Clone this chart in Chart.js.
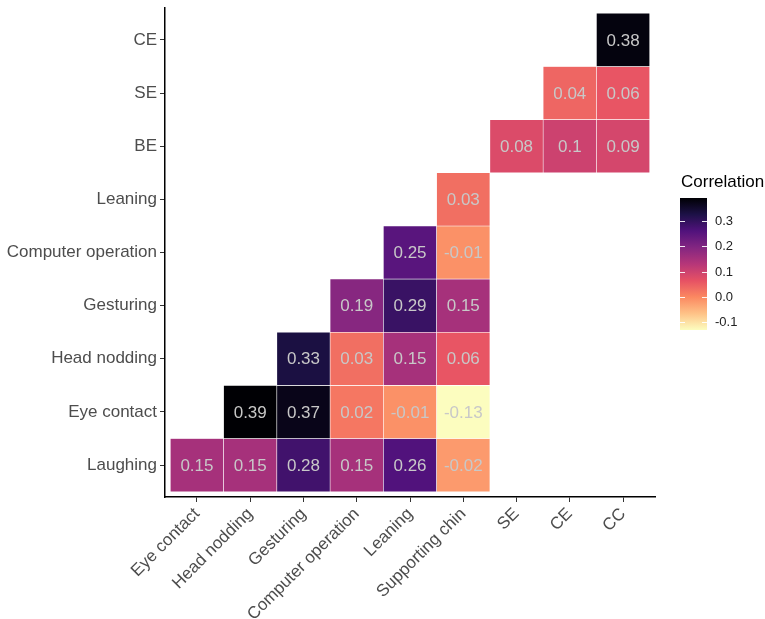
<!DOCTYPE html>
<html>
<head>
<meta charset="utf-8">
<script src="https://cdn.jsdelivr.net/npm/chart.js@4.4.1/dist/chart.umd.min.js"></script>
<style>
  body { margin: 0; background: #fff; }
  #wrap { width: 765px; height: 619px; position: relative; }
</style>
</head>
<body>
<div id="wrap"><canvas id="corrChart"></canvas></div>
<script>
// categories
const xCats = ['Eye contact', 'Head nodding', 'Gesturing', 'Computer operation', 'Leaning', 'Supporting chin', 'SE', 'CE', 'CC'];
const yCats = ['Laughing', 'Eye contact', 'Head nodding', 'Gesturing', 'Computer operation', 'Leaning', 'BE', 'SE', 'CE'];

// correlation values, one row per y category (null = empty cell)
const laughing     = [0.15, 0.15, 0.28, 0.15, 0.26, -0.02, null, null, null];
const eyeContact   = [null, 0.39, 0.37, 0.02, -0.01, -0.13, null, null, null];
const headNodding  = [null, null, 0.33, 0.03, 0.15, 0.06, null, null, null];
const gesturing    = [null, null, null, 0.19, 0.29, 0.15, null, null, null];
const computerOp   = [null, null, null, null, 0.25, -0.01, null, null, null];
const leaning      = [null, null, null, null, null, 0.03, null, null, null];
const beRow        = [null, null, null, null, null, null, 0.08, 0.1, 0.09];
const seRow        = [null, null, null, null, null, null, null, 0.04, 0.06];
const ceRow        = [null, null, null, null, null, null, null, null, 0.38];
const rows = [laughing, eyeContact, headNodding, gesturing, computerOp, leaning, beRow, seRow, ceRow];

// legend ticks
const legendTicks = [-0.1, 0.0, 0.1, 0.2, 0.3];

// magma palette stops
const magma = ['#000004', '#1D1147', '#51127C', '#832681', '#B63679', '#E65164', '#FB8861', '#FEC287', '#FCFDBF'];

const allVals = rows.flat().filter(v => v !== null);
const vMin = Math.min(...allVals);
const vMax = Math.max(...allVals);

function hex2rgb(h) {
    return [parseInt(h.substr(1, 2), 16), parseInt(h.substr(3, 2), 16), parseInt(h.substr(5, 2), 16)];
}
// high values dark, low values light
function colorFor(v) {
    let t = 1 - (v - vMin) / (vMax - vMin);
    t = Math.max(0, Math.min(1, t));
    const pos = t * (magma.length - 1);
    const i = Math.min(Math.floor(pos), magma.length - 2);
    const f = pos - i;
    const a = hex2rgb(magma[i]), b = hex2rgb(magma[i + 1]);
    const c = a.map((x, k) => Math.round(x + (b[k] - x) * f));
    return 'rgb(' + c.join(',') + ')';
}

const cells = [];
rows.forEach((row, r) => {
    row.forEach((v, c) => {
        if (v !== null) cells.push({ x: c, y: [r - 0.5, r + 0.5], v: v });
    });
});

const fontFam = '"Liberation Sans", Arial, sans-serif';

// value labels inside the tiles
const cellLabels = {
    id: 'cellLabels',
    afterDatasetsDraw(chart) {
        const ctx = chart.ctx;
        const meta = chart.getDatasetMeta(0);
        ctx.save();
        ctx.font = '17px ' + fontFam;
        ctx.fillStyle = '#c8c8c8';
        ctx.textAlign = 'center';
        ctx.textBaseline = 'middle';
        meta.data.forEach((el, i) => {
            const p = el.getCenterPoint();
            ctx.fillText(String(cells[i].v), p.x, p.y + 1);
        });
        ctx.restore();
    }
};

// continuous colour bar legend
const colorBar = {
    id: 'colorBar',
    afterDraw(chart) {
        const ctx = chart.ctx;
        const area = chart.chartArea;
        const left = area.right + 25, w = 27;
        const top = area.top + 190, h = 132;
        const yOf = v => top + (vMax - v) / (vMax - vMin) * h;
        ctx.save();
        const grad = ctx.createLinearGradient(0, top, 0, top + h);
        magma.forEach((c, i) => grad.addColorStop(i / (magma.length - 1), c));
        ctx.fillStyle = grad;
        ctx.fillRect(left, top, w, h);

        ctx.strokeStyle = 'rgba(255,255,255,0.9)';
        ctx.lineWidth = 1;
        ctx.font = '13px ' + fontFam;
        ctx.fillStyle = '#222';
        ctx.textAlign = 'left';
        ctx.textBaseline = 'middle';
        legendTicks.forEach(t => {
            const y = Math.round(yOf(t)) + 0.5;
            ctx.beginPath();
            ctx.moveTo(left, y); ctx.lineTo(left + 5, y);
            ctx.moveTo(left + w - 5, y); ctx.lineTo(left + w, y);
            ctx.stroke();
            ctx.fillText(t.toFixed(1), left + w + 8, y);
        });

        ctx.font = '17px ' + fontFam;
        ctx.fillStyle = '#000';
        ctx.fillText('Correlation', left + 1, top - 16);
        ctx.restore();
    }
};

const ctx = document.getElementById('corrChart').getContext('2d');
const corrChart = new Chart(ctx, {
    type: 'bar',
    data: {
        datasets: [{
            data: cells,
            backgroundColor: cells.map(d => colorFor(d.v)),
            borderColor: 'rgba(255,255,255,0.7)',
            borderWidth: 0.6,
            borderSkipped: false,
            barPercentage: 1,
            categoryPercentage: 1
        }]
    },
    options: {
        responsive: true,
        maintainAspectRatio: false,
        animation: false,
        layout: { padding: { top: 8, right: 110, left: 0, bottom: 0 } },
        plugins: {
            legend: { display: false },
            tooltip: { enabled: false }
        },
        scales: {
            x: {
                type: 'linear',
                min: -0.6,
                max: 8.6,
                offset: false,
                afterBuildTicks: s => { s.ticks = xCats.map((_, i) => ({ value: i })); },
                afterFit: s => { s.height = 122; s.paddingLeft = 0; s.paddingRight = 0; },
                grid: { display: true, offset: false, drawOnChartArea: false, drawTicks: true, tickLength: 5, tickColor: '#333' },
                border: { display: true, color: '#000', width: 1.5 },
                ticks: {
                    autoSkip: false,
                    minRotation: 45,
                    maxRotation: 45,
                    padding: 2,
                    color: '#4d4d4d',
                    font: { family: fontFam, size: 17 },
                    callback: v => xCats[v]
                }
            },
            y: {
                type: 'linear',
                min: -0.6,
                max: 8.6,
                afterBuildTicks: s => { s.ticks = yCats.map((_, i) => ({ value: i })); },
                afterFit: s => { s.width = 165; s.paddingTop = 0; s.paddingBottom = 0; },
                grid: { display: true, drawOnChartArea: false, drawTicks: true, tickLength: 5, tickColor: '#333' },
                border: { display: true, color: '#000', width: 1.5 },
                ticks: {
                    padding: 3,
                    color: '#4d4d4d',
                    font: { family: fontFam, size: 17 },
                    callback: v => yCats[v]
                }
            }
        }
    },
    plugins: [cellLabels, colorBar]
});
</script>
</body>
</html>
